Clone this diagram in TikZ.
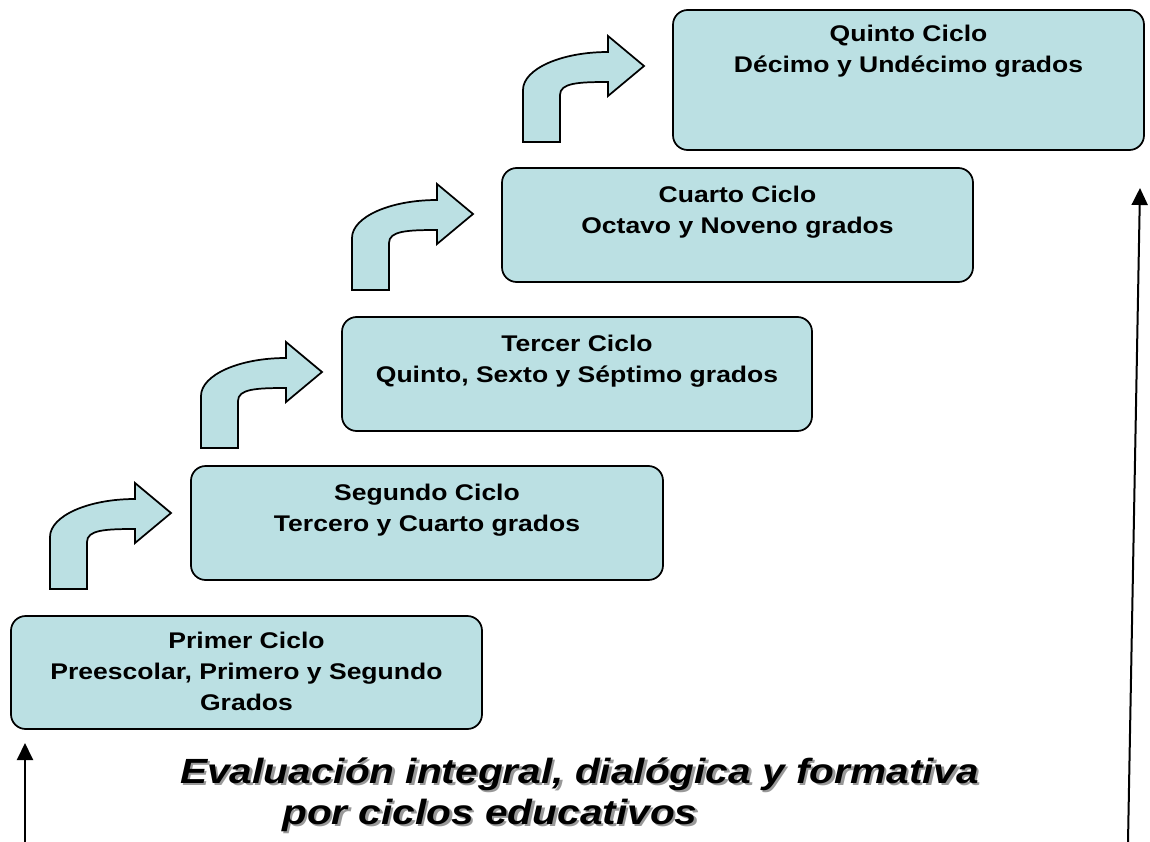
\documentclass[tikz,border=0pt]{standalone}
\usepackage{fontspec}
\setmainfont{Liberation Sans}
\usetikzlibrary{arrows.meta}
\definecolor{boxfill}{RGB}{187,224,227}
\newcommand{\boxtxt}[1]{\scalebox{1.17}[1]{\fontsize{17}{23.25}\selectfont\bfseries\begin{tabular}[t]{@{}c@{}}#1\end{tabular}}}
\newcommand{\ttltxt}[1]{\scalebox{1.16}[1]{\fontsize{26.25}{30}\selectfont\bfseries\itshape #1}}
\tikzset{
  cbox/.style={draw=black, line width=1.3pt, fill=boxfill, rounded corners=11pt, inner sep=0pt},
  ctext/.style={anchor=base, inner sep=0pt},
  ttext/.style={anchor=base west, inner sep=0pt},
  tshadow/.style={anchor=base west, inner sep=0pt, text=black!40},
  vline/.style={line width=1.5pt, -{Triangle[length=12.75pt,width=12pt]}},
  bentarrow/.pic={
    \draw[line width=1.3pt, fill=boxfill, line join=miter]
      (0,0) -- (0,-52) .. controls (0,-73) and (38,-90) .. (85,-90)
      -- (85,-106) -- (121,-76) -- (85,-46) -- (85,-60)
      .. controls (55,-60) and (37,-59) .. (37,-47) -- (37,0) -- cycle;
  }
}
\begin{document}
\begin{tikzpicture}[x=0.75pt, y=-0.75pt]
\useasboundingbox (0,0) rectangle (1150,842);
% boxes
\node[cbox, minimum width=353.25pt, minimum height=84.75pt] (b1) at (246.5,672.5) {};
\node[cbox, minimum width=354pt, minimum height=85.5pt] (b2) at (427,523) {};
\node[cbox, minimum width=352.5pt, minimum height=85.5pt] (b3) at (577,374) {};
\node[cbox, minimum width=353.25pt, minimum height=85.5pt] (b4) at (737.5,225) {};
\node[cbox, minimum width=353.25pt, minimum height=105pt] (b5) at (908.5,80) {};
% box texts
\node[ctext] (t1) at (246.5,648) {\boxtxt{Primer Ciclo\\Preescolar, Primero y Segundo\\Grados}};
\node[ctext] (t2) at (427,500) {\boxtxt{Segundo Ciclo\\Tercero y Cuarto grados}};
\node[ctext] (t3) at (577,351) {\boxtxt{Tercer Ciclo\\Quinto, Sexto y Séptimo grados}};
\node[ctext] (t4) at (737.5,202) {\boxtxt{Cuarto Ciclo\\Octavo y Noveno grados}};
\node[ctext] (t5) at (908.5,42) {\boxtxt{Quinto Ciclo\\Décimo y Undécimo grados}};
% bent arrows
\pic at (50,589) {bentarrow};
\pic at (201,448) {bentarrow};
\pic at (352,290) {bentarrow};
\pic at (523,142) {bentarrow};
% title
\node[tshadow] (s1) at (182.5,785.5) {\ttltxt{Evaluación integral, dialógica y formativa}};
\node[ttext] (h1) at (180,783) {\ttltxt{Evaluación integral, dialógica y formativa}};
\node[tshadow] (s2) at (284.5,826.5) {\ttltxt{por ciclos educativos}};
\node[ttext] (h2) at (282,824) {\ttltxt{por ciclos educativos}};
% vertical arrows
\coordinate (la0) at (25,842);
\coordinate (la1) at (25,743);
\coordinate (ra0) at (1128,842);
\coordinate (ra1) at (1140,188);
\draw[vline] (la0) -- (la1);
\draw[vline] (ra0) -- (ra1);
\end{tikzpicture}
\end{document}
